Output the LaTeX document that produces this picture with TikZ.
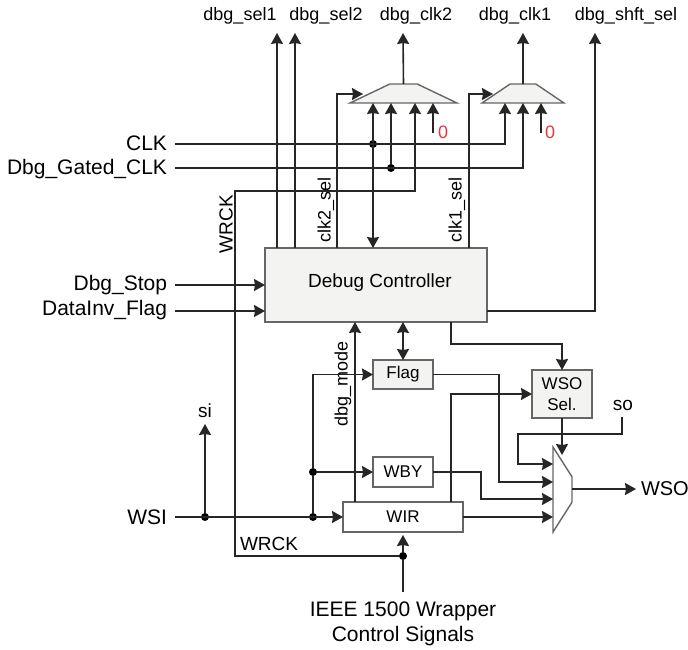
\documentclass[tikz,border=0pt]{standalone}
\usepackage{fontspec}
\setmainfont{Liberation Sans}
\usetikzlibrary{arrows.meta,shapes.geometric}
\definecolor{boxgray}{HTML}{F3F3F1}
\definecolor{edgegray}{HTML}{666666}
\definecolor{zerored}{HTML}{E0383C}
\begin{document}
\begin{tikzpicture}[
x=1pt, y=-1pt,
every node/.style={inner sep=0pt, outer sep=0pt},
sig/.style={line width=1.6pt, color=black!85, -{Stealth[length=11pt,width=12pt,inset=1pt]}},
wire/.style={line width=1.6pt, color=black!85},
both/.style={line width=1.6pt, color=black!85, {Stealth[length=11pt,width=12pt,inset=1pt]}-{Stealth[length=11pt,width=12pt,inset=1pt]}},
dot/.style={circle, fill=black, minimum size=8pt},
block/.style={draw=edgegray, line width=1.2pt, fill=boxgray},
plain/.style={draw=edgegray, line width=1.2pt, fill=white},
mux/.style={draw=edgegray, line width=1.4pt, fill=boxgray, trapezium, trapezium stretches=true, font=\tiny},
toplbl/.style={font=\fontsize{18}{20}\selectfont},
sidelbl/.style={font=\fontsize{21}{24}\selectfont, anchor=east},
vertlbl/.style={font=\fontsize{18}{20}\selectfont, rotate=90}
]
\useasboundingbox (0,0) rectangle (688,649);

% blocks
\node[block, minimum width=222pt, minimum height=74pt] (ctrl) at (376,285) {};
\node[font=\fontsize{19}{22}\selectfont] (ctrltext) at (380,283) {Debug Controller};
\node[block, minimum width=60pt, minimum height=29pt, font=\fontsize{17}{20}\selectfont] (flag) at (403,374.5) {Flag};
\node[plain, minimum width=60pt, minimum height=30pt, font=\fontsize{17}{20}\selectfont] (wby) at (403,472) {WBY};
\node[plain, minimum width=120pt, minimum height=30pt, font=\fontsize{17}{20}\selectfont] (wir) at (403,517) {WIR};
\node[block, minimum width=60pt, minimum height=48pt, align=center, font=\fontsize{17}{21}\selectfont] (wsosel) at (562,394) {WSO\\Sel.};
\node[mux, minimum width=107pt, minimum height=19pt, trapezium angle=36] (muxtwo) at (403.5,93.5) {\phantom{x}};
\node[mux, minimum width=82pt, minimum height=19pt, trapezium angle=44] (muxone) at (523,93.5) {\phantom{x}};
\node[mux, fill=white, minimum width=85pt, minimum height=19pt, trapezium angle=42, rotate=-90] (muxout) at (562.5,489.5) {\phantom{x}};

% texts
\node[toplbl] (sela) at (240,16) {dbg\_sel1};
\node[toplbl] (selb) at (326,16) {dbg\_sel2};
\node[toplbl] (clkb) at (416,16) {dbg\_clk2};
\node[toplbl] (clka) at (515,16) {dbg\_clk1};
\node[toplbl] (shft) at (626,16) {dbg\_shft\_sel};
\node[sidelbl] (clk) at (167,143) {CLK};
\node[sidelbl] (gated) at (167,169) {Dbg\_Gated\_CLK};
\node[sidelbl] (stop) at (167,285) {Dbg\_Stop};
\node[sidelbl] (inv) at (167,310) {DataInv\_Flag};
\node[sidelbl] (wsi) at (167,517) {WSI};
\node[font=\fontsize{19}{22}\selectfont] (si) at (205,411) {si};
\node[font=\fontsize{19}{22}\selectfont] (so) at (623,405) {so};
\node[font=\fontsize{20}{24}\selectfont, anchor=west] (wso) at (641,489) {WSO};
\node[font=\fontsize{19}{22}\selectfont, rotate=90] (wrckup) at (226,224) {WRCK};
\node[font=\fontsize{19}{22}\selectfont, anchor=west] (wrcklow) at (240,544) {WRCK};
\node[vertlbl] (clktwosel) at (326,210) {clk2\_sel};
\node[vertlbl] (clkonesel) at (457,210) {clk1\_sel};
\node[vertlbl] (mode) at (343,384) {dbg\_mode};
\node[font=\fontsize{21}{25}\selectfont, align=center] (ieee) at (403,624) {IEEE 1500 Wrapper\\Control Signals};
\node[text=zerored, font=\fontsize{18}{20}\selectfont] (zerob) at (443,132) {0};
\node[text=zerored, font=\fontsize{18}{20}\selectfont] (zeroa) at (550,132) {0};

% junctions
\node[dot] (jclk) at (373,144) {};
\node[dot] (jgated) at (391,168) {};
\node[dot] (jsi) at (205,517) {};
\node[dot] (jwsi) at (313,517) {};
\node[dot] (jwby) at (313,472) {};
\node[dot] (jwrck) at (403,556) {};

% free ends
\coordinate (ua) at (277,33);
\coordinate (ub) at (295,33);
\coordinate (uc) at (403,33);
\coordinate (ud) at (523,33);
\coordinate (ue) at (595,33);
\coordinate (pa) at (373,103);
\coordinate (pb) at (391,103);
\coordinate (pc) at (415,103);
\coordinate (pd) at (433,103);
\coordinate (qa) at (505,103);
\coordinate (qb) at (523,103);
\coordinate (qc) at (541,103);
\coordinate (ra) at (553,464);
\coordinate (rb) at (553,482);
\coordinate (rc) at (553,499);
\coordinate (rd) at (553,517);
\coordinate (ctrltop) at (373,248);
\coordinate (ctrlbot) at (403,322);
\coordinate (modeup) at (355,322);
\coordinate (ieeetop) at (403,592);
\coordinate (wirbot) at (403,535);
\coordinate (siup) at (205,424);
\coordinate (soend) at (622,417);
\coordinate (selin) at (562,455);
\coordinate (outend) at (636,489);

% outputs
\draw[sig] (ua |- ctrl.north) -- (ua);
\draw[sig] (ub |- ctrl.north) -- (ub);
\draw[sig] (muxtwo.north) -- (uc);
\draw[sig] (muxone.north) -- (ud);
\draw[sig] (ctrl.east |- 0,311) -- (ue |- 0,311) -- (ue);
\draw[sig] (337,248) -- (337,94) -- (363,94);
\draw[sig] (469,248) -- (469,94) -- (493,94);

% clocks
\draw[sig] (175,144) -- (qa |- jclk) -- (qa);
\draw[sig] (175,168) -- (qb |- jgated) -- (qb);
\draw[both] (pa) -- (ctrltop);
\draw[sig] (jgated) -- (pb);
\draw[sig] (jwrck) -| (235,191) -- (pc |- 0,191) -- (pc);
\draw[sig] (433,133) -- (pd);
\draw[sig] (541,133) -- (qc);

% inputs of the controller
\draw[sig] (175,285) -- (ctrl.west |- stop);
\draw[sig] (175,311) -- (ctrl.west |- 0,311);

% wrapper
\draw[sig] (175,517) -- (wir.west);
\draw[sig] (jsi) -- (siup);
\draw[wire] (jwsi) -- (jwby);
\draw[sig] (jwby) -- (wby.west);
\draw[sig] (jwby) |- (flag.west);
\draw[sig] (modeup |- wir.north) -- (modeup);
\draw[both] (ctrlbot) -- (flag.north);
\draw[sig] (451,322) -- (451,344) -| (wsosel.north);
\draw[sig] (451,502) |- (wsosel.west);
\draw[sig] (flag.east) -| (499,482) -- (rb);
\draw[sig] (wby.east) -| (481,499) -- (rc);
\draw[sig] (wir.east) -- (rd);
\draw[sig] (soend) |- (518,434) |- (ra);
\draw[sig] (wsosel.south) -- (selin);
\draw[sig] (572,489) -- (outend);
\draw[wire] (ieeetop) -- (jwrck);
\draw[sig] (jwrck) -- (wirbot);
\end{tikzpicture}
\end{document}
